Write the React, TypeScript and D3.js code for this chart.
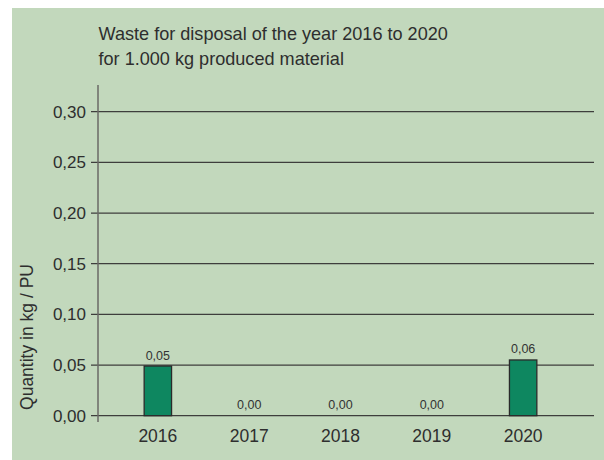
import React, { useEffect } from "react";
import * as d3 from "d3";

const years = ["2016", "2017", "2018", "2019", "2020"];
const values = [0.049, 0, 0, 0, 0.055];
const valueLabels = ["0,05", "0,00", "0,00", "0,00", "0,06"];
const yTicks = [0, 0.05, 0.1, 0.15, 0.2, 0.25, 0.3];
const titleLines = ["Waste for disposal of the year 2016 to 2020", "for 1.000 kg produced material"];
const yAxisTitle = "Quantity in kg / PU";

const W = 604;
const H = 460;
const FONT = "'Liberation Sans', Arial, sans-serif";

export default function App() {
  useEffect(() => {
    document.body.style.margin = "0";
  }, []);

  const y = d3.scaleLinear().domain([0, 0.3]).range([415.7, 111.7]);
  const x = d3.scaleBand<string>().domain(years).range([98.5, 582.5]).paddingInner(0.7).paddingOuter(0.5);
  const fmt = (v: number) => d3.format(".2f")(v).replace(".", ",");
  const axisX = 98;
  const gridEnd = 594;

  return (
    <svg width={W} height={H} style={{ display: "block" }} fontFamily={FONT}>
      <rect x={12} y={8} width={W - 12} height={H - 8} fill="#c2d8bc" />
      {titleLines.map((t, i) => (
        <text key={i} x={98.5} y={39.8 + i * 25.5} fontSize={18.1} fill="#2e2e2e">
          {t}
        </text>
      ))}
      {yTicks.map((t) => (
        <g key={t}>
          <line x1={axisX - 7} x2={gridEnd} y1={y(t)} y2={y(t)} stroke="#3e3e3c" strokeWidth={1.3} />
          <text x={86} y={y(t)} dy="0.36em" textAnchor="end" fontSize={17} fill="#2e2e2e">
            {fmt(t)}
          </text>
        </g>
      ))}
      <line x1={axisX} x2={axisX} y1={85} y2={422} stroke="#6a6a66" strokeWidth={1.5} />
      {years.map((yr, i) => {
        const cx = (x(yr) as number) + x.bandwidth() / 2;
        return (
          <g key={yr}>
            {values[i] > 0 && (
              <rect
                x={x(yr) as number}
                y={y(values[i])}
                width={x.bandwidth()}
                height={y(0) - y(values[i])}
                fill="#0e8760"
                stroke="#2a2a2a"
                strokeWidth={1.3}
              />
            )}
            <text x={cx} y={y(values[i]) - 6.5} textAnchor="middle" fontSize={12.5} fill="#333">
              {valueLabels[i]}
            </text>
            <text x={cx} y={441.5} textAnchor="middle" fontSize={17.5} fill="#2e2e2e">
              {yr}
            </text>
          </g>
        );
      })}
      <text
        transform={`translate(33,337) rotate(-90)`}
        textAnchor="middle"
        fontSize={17.5}
        fill="#2e2e2e"
      >
        {yAxisTitle}
      </text>
    </svg>
  );
}
